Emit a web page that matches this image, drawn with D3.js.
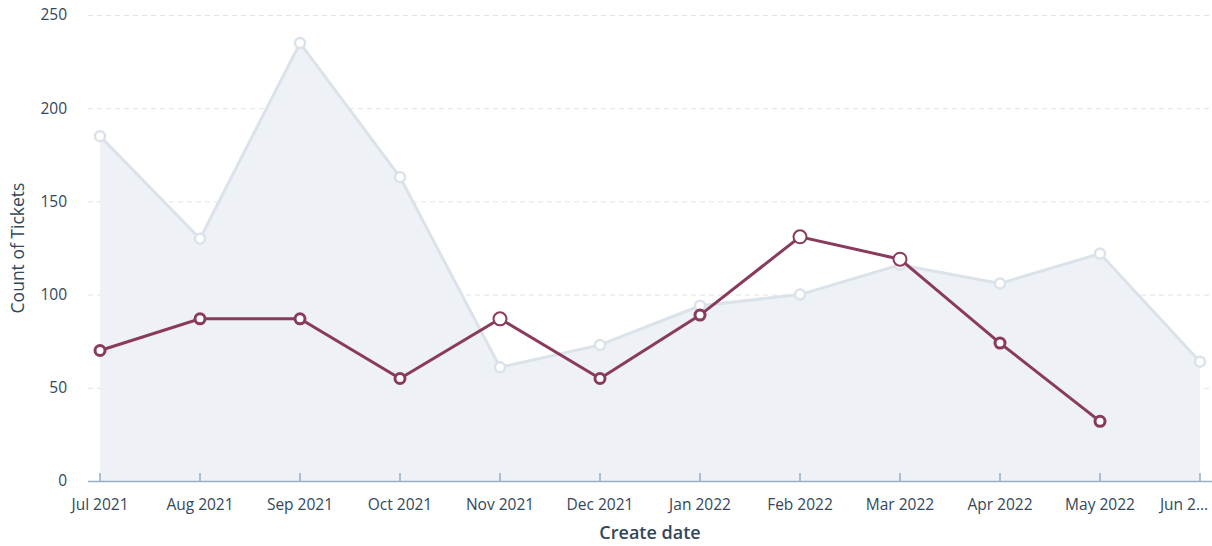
<!DOCTYPE html>
<html>
<head>
  <meta charset="utf-8">
  <script src="https://d3js.org/d3.v7.min.js"></script>
  <style>
    body { margin: 0; background: #fff; font-family: "Open Sans", Lato, sans-serif; }
  </style>
</head>
<body>
<div id="vis"></div>
<script>
  // data
  var months = ["Jul 2021", "Aug 2021", "Sep 2021", "Oct 2021", "Nov 2021", "Dec 2021",
                "Jan 2022", "Feb 2022", "Mar 2022", "Apr 2022", "May 2022", "Jun 2022"];
  var totalTickets = [185, 130, 235, 163, 61, 73, 94, 100, 116, 106, 122, 64];
  var otherTickets = [70, 87, 87, 55, 87, 55, 89, 131, 119, 74, 32, null];
  var bigMarker = [false, false, false, false, true, false, false, true, true, false, false, false];
  var yTicks = [0, 50, 100, 150, 200, 250];

  var width = 1212, height = 546;
  var plotLeft = 100, plotRight = 1200, plotTop = 15, plotBottom = 481;

  var svg = d3.select("#vis").append("svg")
    .attr("width", width)
    .attr("height", height);

  var x = d3.scalePoint()
    .domain(months)
    .range([plotLeft, plotRight]);

  var y = d3.scaleLinear()
    .domain([0, 250])
    .range([plotBottom, plotTop]);

  // gridlines
  svg.append("g")
    .selectAll("line")
    .data(yTicks.filter(function(d){ return d > 0; }))
    .enter().append("line")
    .attr("x1", 88).attr("x2", width)
    .attr("y1", function(d){ return y(d) + 0.5; })
    .attr("y2", function(d){ return y(d) + 0.5; })
    .attr("stroke", "#dfe3eb")
    .attr("stroke-dasharray", "5,4");

  // y tick labels
  svg.append("g")
    .selectAll("text")
    .data(yTicks)
    .enter().append("text")
    .attr("x", 67)
    .attr("y", function(d){ return y(d); })
    .attr("dy", "0.35em")
    .attr("text-anchor", "end")
    .attr("fill", "#33475b")
    .style("font-size", "15.5px")
    .text(function(d){ return d; });

  // area for total series
  var area = d3.area()
    .x(function(d, i){ return x(months[i]); })
    .y0(y(0))
    .y1(function(d){ return y(d); });

  svg.append("path")
    .datum(totalTickets)
    .attr("d", area)
    .attr("fill", "#eef1f6");

  var line = d3.line()
    .defined(function(d){ return d != null; })
    .x(function(d, i){ return x(months[i]); })
    .y(function(d){ return y(d); });

  svg.append("path")
    .datum(totalTickets)
    .attr("d", line)
    .attr("fill", "none")
    .attr("stroke", "#dbe2ea")
    .attr("stroke-width", 3);

  // x axis
  svg.append("line")
    .attr("x1", 88).attr("x2", width)
    .attr("y1", plotBottom + 0.5).attr("y2", plotBottom + 0.5)
    .attr("stroke", "#99acc2")
    .attr("stroke-width", 1.5);

  svg.append("g")
    .selectAll("line")
    .data(months)
    .enter().append("line")
    .attr("x1", function(d){ return x(d); })
    .attr("x2", function(d){ return x(d); })
    .attr("y1", plotBottom - 8).attr("y2", plotBottom)
    .attr("stroke", "#99acc2")
    .attr("stroke-width", 1.5);

  svg.append("g")
    .selectAll("text")
    .data(months)
    .enter().append("text")
    .attr("x", function(d, i){ return i == months.length - 1 ? width - 4 : x(d); })
    .attr("y", 510)
    .attr("text-anchor", function(d, i){ return i == months.length - 1 ? "end" : "middle"; })
    .attr("fill", "#33475b")
    .style("font-size", "15.5px")
    .text(function(d, i){ return i == months.length - 1 ? "Jun 2\u2026" : d; });

  // grey markers
  svg.append("g")
    .selectAll("circle")
    .data(totalTickets)
    .enter().append("circle")
    .attr("cx", function(d, i){ return x(months[i]); })
    .attr("cy", function(d){ return y(d); })
    .attr("r", 5)
    .attr("fill", "#fff")
    .attr("stroke", "#dbe2ea")
    .attr("stroke-width", 2.5);

  // maroon series
  svg.append("path")
    .datum(otherTickets)
    .attr("d", line)
    .attr("fill", "none")
    .attr("stroke", "#8a3a5c")
    .attr("stroke-width", 3);

  svg.append("g")
    .selectAll("circle")
    .data(otherTickets.map(function(d, i){ return {v: d, i: i}; }).filter(function(d){ return d.v != null; }))
    .enter().append("circle")
    .attr("cx", function(d){ return x(months[d.i]); })
    .attr("cy", function(d){ return y(d.v); })
    .attr("r", function(d){ return bigMarker[d.i] ? 6.5 : 5; })
    .attr("fill", "#fff")
    .attr("stroke", "#8a3a5c")
    .attr("stroke-width", function(d){ return bigMarker[d.i] ? 2 : 3; });

  // axis titles
  svg.append("text")
    .attr("x", 650)
    .attr("y", 539)
    .attr("text-anchor", "middle")
    .attr("fill", "#33475b")
    .style("font-size", "18px")
    .style("font-weight", "600")
    .text("Create date");

  svg.append("text")
    .attr("transform", "translate(24,248) rotate(-90)")
    .attr("text-anchor", "middle")
    .attr("fill", "#33475b")
    .style("font-size", "17.5px")
    .text("Count of Tickets");
</script>
</body>
</html>
